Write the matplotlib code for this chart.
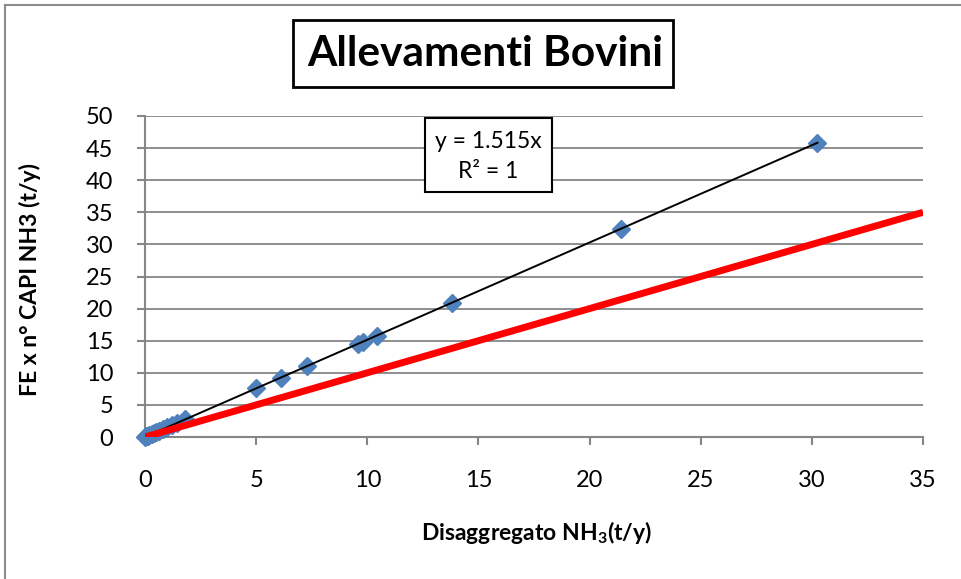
import matplotlib
matplotlib.use("Agg")
import matplotlib.pyplot as plt
from matplotlib.patches import Rectangle
from matplotlib.lines import Line2D

plt.rcParams['font.family'] = ['Lato', 'DejaVu Sans']
plt.rcParams['mathtext.fontset'] = 'custom'
plt.rcParams['mathtext.rm'] = 'Lato'
plt.rcParams['mathtext.bf'] = 'Lato:bold'

# Disaggregated NH3 vs. emission factor x number of heads (t/y)
disaggregato = [0.02, 0.05, 0.10, 0.15, 0.20, 0.30, 0.40, 0.50, 0.65, 0.80,
                1.00, 1.20, 1.45, 1.80, 5.00, 6.10, 7.30, 9.60, 9.80, 10.45,
                13.80, 21.40, 30.25]
fe_capi = [0.03, 0.08, 0.15, 0.23, 0.30, 0.45, 0.61, 0.76, 0.98, 1.21,
           1.52, 1.82, 2.20, 2.73, 7.60, 9.20, 11.10, 14.50, 14.80, 15.80,
           20.90, 32.40, 45.80]
slope = 1.515
r2 = 1
bisector = [0, 35]
x_ticks = [0, 5, 10, 15, 20, 25, 30, 35]
y_ticks = [0, 5, 10, 15, 20, 25, 30, 35, 40, 45, 50]

W, H = 961, 579
fig = plt.figure(figsize=(W / 100, H / 100), dpi=100)
ax = fig.add_axes([145 / W, 1 - 437 / H, (923 - 145) / W, (437 - 116) / H])

grid_c = '#868686'
ax.set_xlim(0, 35)
ax.set_ylim(0, 50)
ax.set_xticks(x_ticks)
ax.set_yticks(y_ticks)
ax.yaxis.grid(True, color=grid_c, linewidth=1.3)
ax.set_axisbelow(True)
for s in ['top', 'right']:
    ax.spines[s].set_visible(False)
for s in ['left', 'bottom']:
    ax.spines[s].set_color(grid_c)
    ax.spines[s].set_linewidth(1.5)
ax.tick_params(axis='both', direction='out', length=6, width=1.5,
               color=grid_c, labelsize=17)
ax.tick_params(axis='x', pad=18)
ax.tick_params(axis='y', pad=17)

ax.plot(disaggregato, fe_capi, linestyle='none', marker='D', markersize=9.5,
        color='#4F81BD', clip_on=False, zorder=3)
xmax = max(disaggregato)
ax.plot([0, xmax], [0, slope * xmax], color='black', linewidth=1.4, zorder=4)
ax.plot(bisector, bisector, color='#FF0000', linewidth=5, zorder=5,
        solid_capstyle='butt')

fig.text(537 / W, 1 - 532 / H, r'Disaggregato NH$_\mathbf{3}$(t/y)',
         fontsize=16.5, fontweight='bold', ha='center', va='center')

fig.text(30 / W, 1 - 280 / H, 'FE x n° CAPI NH3 (t/y)', rotation=90,
         fontsize=16.5, fontweight='bold', ha='center', va='center')

# title box
fig.patches.append(Rectangle((293 / W, 1 - 87 / H), (673 - 293) / W, 67 / H,
                             transform=fig.transFigure, fill=False,
                             edgecolor='black', linewidth=2))
fig.text(485 / W, 1 - 54 / H, 'Allevamenti Bovini', fontsize=30.5,
         fontweight='bold', ha='center', va='center')

# trendline equation box
fig.patches.append(Rectangle((425 / W, 1 - 192 / H), (552 - 425) / W, 74 / H,
                             transform=fig.transFigure, facecolor='white',
                             edgecolor='black', linewidth=1.5, zorder=10))
fig.text(488 / W, 1 - 141 / H, f'y = {slope}x', fontsize=16.5, ha='center',
         va='center', zorder=11)
fig.text(488 / W, 1 - 172 / H, f'R² = {r2}', fontsize=16.5, ha='center',
         va='center', zorder=11)

# chart area border
fig.lines.append(Line2D([5 / W, 1], [1 - 5 / H, 1 - 5 / H],
                        transform=fig.transFigure, color='#8c8c8c', linewidth=1.5))
fig.lines.append(Line2D([5 / W, 5 / W], [0, 1 - 5 / H],
                        transform=fig.transFigure, color='#8c8c8c', linewidth=1.5))

fig.savefig('out.png', dpi=100)
